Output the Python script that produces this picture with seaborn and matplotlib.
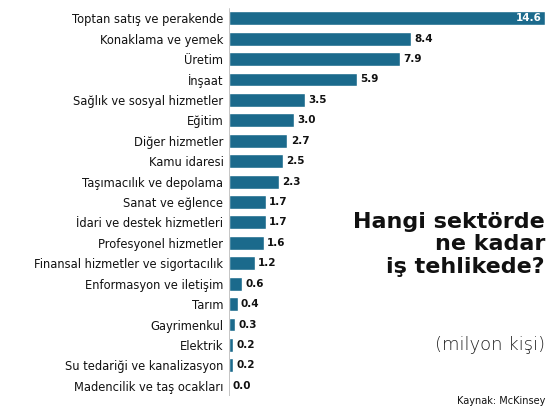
import matplotlib
matplotlib.use("Agg")
import matplotlib.pyplot as plt
import seaborn as sns
import pandas as pd

sectors = ["Toptan satış ve perakende", "Konaklama ve yemek", "Üretim", "İnşaat",
           "Sağlık ve sosyal hizmetler", "Eğitim", "Diğer hizmetler", "Kamu idaresi",
           "Taşımacılık ve depolama", "Sanat ve eğlence", "İdari ve destek hizmetleri",
           "Profesyonel hizmetler", "Finansal hizmetler ve sigortacılık",
           "Enformasyon ve iletişim", "Tarım", "Gayrimenkul", "Elektrik",
           "Su tedariği ve kanalizasyon", "Madencilik ve taş ocakları"]
values = [14.6, 8.4, 7.9, 5.9, 3.5, 3.0, 2.7, 2.5, 2.3, 1.7, 1.7, 1.6, 1.2, 0.6, 0.4, 0.3, 0.2, 0.2, 0.0]

df = pd.DataFrame({"sector": sectors, "value": values})
sns.set_theme(style="white")
plt.rcParams['font.family'] = ['DejaVu Sans']

fig = plt.figure(figsize=(5.5, 4.13), dpi=100)
ax = fig.add_axes([229/550, 1 - 396/413, 316/550, (396 - 8)/413])
color = "#1b6a8c"
sns.barplot(data=df, x="value", y="sector", color=color, saturation=1, width=0.68, ax=ax)
ax.set_xlim(0, 14.6)
ax.set_xlabel(""); ax.set_ylabel("")
ax.set_xticks([])
ax.tick_params(axis="y", length=0, pad=4, labelsize=8.3, labelcolor="#111111")
for s in ax.spines.values():
    s.set_visible(False)
ax.axvline(0, color="#bbbbbb", lw=0.6)
for i, v in enumerate(values):
    if v > 10:
        ax.text(v - 0.15, i, f"{v:.1f}", ha="right", va="center", color="white", fontsize=7.5, fontweight="bold")
    else:
        ax.text(v + 0.15, i, f"{v:.1f}", ha="left", va="center", color="#111111", fontsize=7.5, fontweight="bold")

fig.text(545/550, 1 - 212/413, "Hangi sektörde\nne kadar\niş tehlikede?", ha="right", va="top",
         fontsize=16, fontweight="bold", color="#111111", linespacing=1.15)
fig.text(545/550, 1 - 345/413, "(milyon kişi)", ha="right", va="center", fontsize=13, color="#222222", fontweight="light")
fig.text(545/550, 1 - 401/413, "Kaynak: McKinsey", ha="right", va="center", fontsize=7, color="#111111")
fig.savefig("out.png", dpi=100)
